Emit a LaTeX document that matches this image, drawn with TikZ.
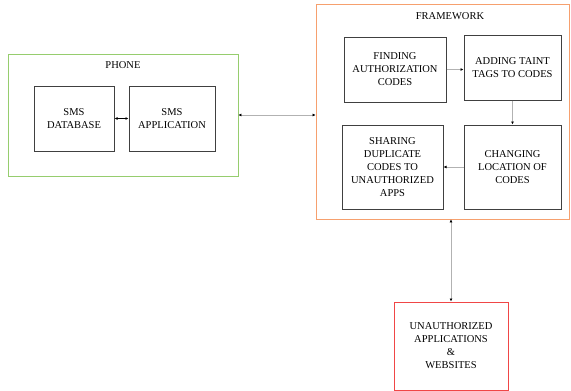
\documentclass[tikz,border=0pt]{standalone}
\usepackage{fontspec}
\setmainfont{Liberation Serif}
\usetikzlibrary{arrows.meta}

\definecolor{phonegreen}{RGB}{150,205,110}
\definecolor{frameorange}{RGB}{246,160,110}
\definecolor{unauthred}{RGB}{240,70,70}

\tikzset{
    stage/.style={draw=black!75, line width=1pt, align=center, inner sep=2pt,
        font=\fontsize{10.5}{13}\selectfont},
    group/.style={draw, line width=0.9pt},
    flow/.style={draw=black!30, line width=0.8pt, -{Latex[black,length=3pt,width=3pt]}},
    link/.style={draw=black!30, line width=0.8pt, {Latex[black,length=3pt,width=3pt]}-{Latex[black,length=3pt,width=3pt]}},
    caption/.style={font=\fontsize{10.5}{13}\selectfont}
}

\begin{document}
\begin{tikzpicture}[x=1pt,y=-1pt]
    \useasboundingbox (0,0) rectangle (571,391);

    % Phone side
    \node[group, draw=phonegreen, minimum width=230pt, minimum height=122pt] (phone) at (123,115) {};
    \node[caption] (phonelbl) at (123,65) {PHONE};
    \node[stage, minimum width=80pt, minimum height=65pt] (smsdb) at (74,118.5) {SMS\\DATABASE};
    \node[stage, minimum width=86pt, minimum height=65pt] (smsapp) at (172,118.5) {SMS\\APPLICATION};

    % Framework side
    \node[group, draw=frameorange, minimum width=253pt, minimum height=215pt] (framework) at (442.5,111.5) {};
    \node[caption] (frameworklbl) at (450,16) {FRAMEWORK};
    \node[stage, minimum width=102pt, minimum height=65pt] (finding) at (395,69.5) {FINDING\\AUTHORIZATION\\CODES};
    \node[stage, minimum width=97pt, minimum height=65pt] (adding) at (512.5,67.5) {ADDING TAINT\\TAGS TO CODES};
    \node[stage, minimum width=101pt, minimum height=84pt] (sharing) at (392.5,167) {SHARING\\DUPLICATE\\CODES TO\\UNAUTHORIZED\\APPS};
    \node[stage, minimum width=97pt, minimum height=84pt] (changing) at (512.5,167) {CHANGING\\LOCATION OF\\CODES};

    % Outside world
    \node[stage, draw=unauthred, minimum width=114pt, minimum height=88pt] (unauth) at (451,346) {UNAUTHORIZED\\APPLICATIONS\\\&\\WEBSITES};

    % Connectors
    \draw[link, draw=black] (smsdb) -- (smsapp);
    \draw[link] (phone.east) -- (phone.east -| framework.west);
    \draw[flow] (finding.east) -- (finding.east -| adding.west);
    \draw[flow] (adding) -- (changing);
    \draw[flow] (changing) -- (sharing);
    \draw[link] (unauth.north) -- (unauth.north |- framework.south);
\end{tikzpicture}
\end{document}
